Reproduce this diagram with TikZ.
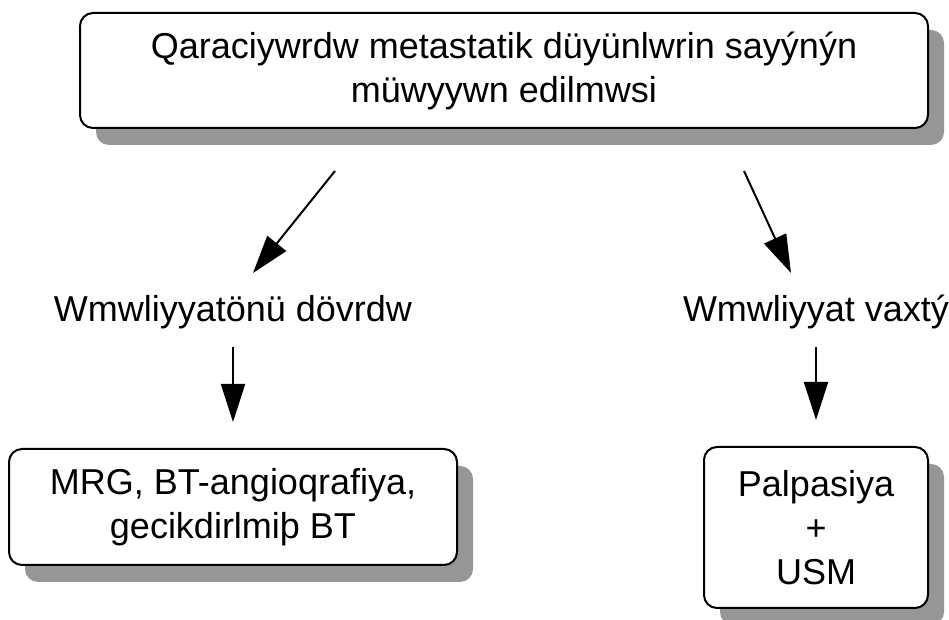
\documentclass[tikz,border=0pt]{standalone}
\usepackage{fontspec}
\setmainfont{Liberation Sans}
\usepackage{tikz}
\usetikzlibrary{arrows.meta, shadows}
\tikzset{
    stage/.style={rectangle, draw=black, fill=white, line width=2pt, rounded corners=13pt, align=center, inner sep=0pt,
        drop shadow={shadow xshift=16pt, shadow yshift=-17pt, fill=black!41, opacity=1}},
    period/.style={inner sep=0pt, anchor=base},
    arrow/.style={-{Triangle[length=38pt, width=24pt]}, line width=2pt}
}

\begin{document}
\begin{tikzpicture}[x=1pt, y=1pt, font=\fontsize{36pt}{44pt}\selectfont]
        \useasboundingbox (0,0) rectangle (949,620);

        % --- Question ---
        \node (count) [stage, minimum width=848pt, minimum height=115pt] at (504,549.5) {Qaraciywrdw metastatik düyünlwrin sayýnýn \\ müwyywn edilmwsi};

        % --- Periods ---
        \node (preop) [period] at (233,298) {Wmwliyyatönü dövrdw};
        \node (intra) [period] at (816,298) {Wmwliyyat vaxtý};

        % --- Methods ---
        \node (mrt) [stage, minimum width=448pt, minimum height=116pt] at (233,113) {MRG, BT-angioqrafiya, \\ gecikdirlmiþ BT};
        \node (usm) [stage, minimum width=224pt, minimum height=161pt] at (816,92.5) {Palpasiya \\ + \\ USM};

        % --- Arrows ---
        \draw [arrow] ([shift={(-169,-42)}]count.south) -- ([shift={(20,49)}]preop.base);
        \draw [arrow] ([shift={(240,-42)}]count.south) -- ([shift={(-25,49)}]intra.base);

        \draw [arrow] ([yshift=-25pt]preop.base) -- ([yshift=26pt]mrt.north);
        \draw [arrow] ([yshift=-25pt]intra.base) -- ([yshift=26pt]usm.north);
    \end{tikzpicture}
\end{document}
